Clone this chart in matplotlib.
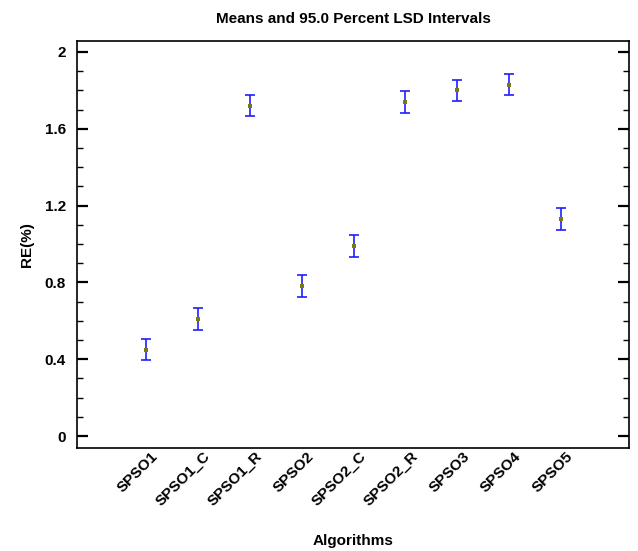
import matplotlib
matplotlib.use("Agg")
from matplotlib import pyplot as plt
from matplotlib.ticker import MultipleLocator
import matplotlib.transforms as mtransforms

# srednie RE(%) dla algorytmow i polowa przedzialu LSD
algorytmy = ["SPSO1", "SPSO1_C", "SPSO1_R", "SPSO2", "SPSO2_C",
             "SPSO2_R", "SPSO3", "SPSO4", "SPSO5"]
srednie = [0.45, 0.61, 1.72, 0.78, 0.99, 1.74, 1.80, 1.83, 1.13]
lsd = [0.056, 0.056, 0.056, 0.056, 0.056, 0.056, 0.056, 0.056, 0.056]

plt.rcParams['font.family'] = ['Liberation Sans', 'DejaVu Sans']
plt.rcParams['font.weight'] = 'bold'

fig = plt.figure(figsize=(6.38, 5.51), dpi=100)
ax = fig.add_axes([0.1207, 0.1869, 0.8652, 0.7387])

x = list(range(len(algorytmy)))
ax.errorbar(x, srednie, yerr=lsd, fmt='none', ecolor='#1f1fff',
            elinewidth=1.2, capsize=3.6, capthick=1.2)
ax.plot(x, srednie, 's', color='#7a7a10', markersize=2.6,
        markeredgewidth=0)

ax.set_xlim(-1.33, 9.31)
ax.set_ylim(-0.0625, 2.057)
ax.yaxis.set_minor_locator(MultipleLocator(0.1))
ax.set_yticks([0, 0.4, 0.8, 1.2, 1.6, 2.0])
ax.set_yticklabels(["0", "0.4", "0.8", "1.2", "1.6", "2"])
ax.tick_params(axis='y', which='major', direction='in', length=8,
               width=1.6, right=True, labelsize=11, pad=8)
ax.tick_params(axis='y', which='minor', direction='in', length=4.5,
               width=1, right=True)

ax.set_xticks(x)
ax.set_xticklabels(algorytmy, rotation=45, ha='right', va='top',
                   rotation_mode='anchor', fontsize=11)
ax.tick_params(axis='x', length=0, pad=1)
przesun = mtransforms.ScaledTranslation(5 / 100, 0, fig.dpi_scale_trans)
for lab in ax.get_xticklabels():
    lab.set_transform(lab.get_transform() + przesun)

for s in ax.spines.values():
    s.set_linewidth(1.2)

ax.set_title("Means and 95.0 Percent LSD Intervals", fontsize=11,
             fontweight='bold', pad=13)
ax.set_ylabel("RE(%)", fontsize=11, fontweight='bold', labelpad=8)
ax.set_xlabel("Algorithms", fontsize=11, fontweight='bold', labelpad=18)

plt.savefig("out.png", dpi=100)
